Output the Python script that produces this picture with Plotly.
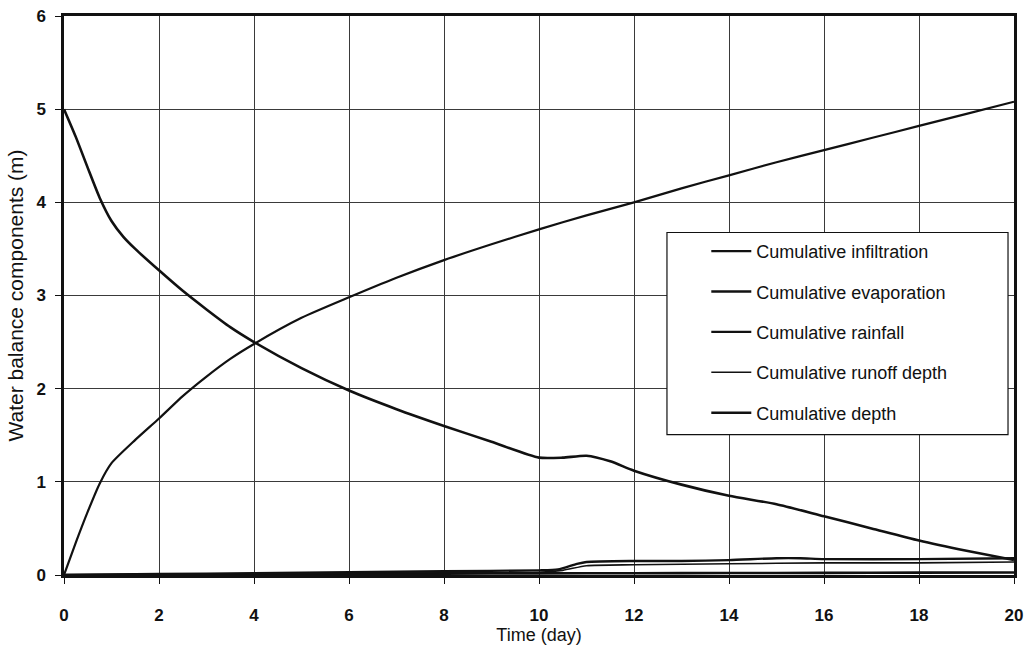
import plotly.graph_objects as go

# Cumulative infiltration (m) over time (day)
t_infil = [0, 0.25, 0.5, 0.75, 1, 1.5, 2, 2.5, 3, 3.5, 4, 5, 6, 7, 8, 9, 10,
           11, 12, 13, 14, 15, 16, 17, 18, 19, 20]
infiltration = [0, 0.35, 0.68, 0.98, 1.2, 1.45, 1.68, 1.92, 2.13, 2.32, 2.48,
                 2.76, 2.98, 3.19, 3.38, 3.55, 3.71, 3.86, 4.0, 4.15, 4.29,
                 4.43, 4.56, 4.69, 4.82, 4.95, 5.08]

# Cumulative evaporation (m)
t_evap = [0, 2, 4, 6, 8, 10, 12, 14, 16, 18, 20]
evaporation = [0, 0.004, 0.008, 0.011, 0.014, 0.017, 0.019, 0.021, 0.023,
               0.025, 0.027]

# Cumulative rainfall (m)
t_rain = [0, 2, 4, 6, 8, 10, 10.4, 10.8, 11, 12, 13, 14, 15, 15.5, 16, 18, 20]
rainfall = [0, 0.01, 0.02, 0.03, 0.04, 0.05, 0.06, 0.12, 0.14, 0.15, 0.15,
            0.16, 0.18, 0.18, 0.17, 0.17, 0.18]

# Cumulative runoff depth (m)
t_runoff = [0, 2, 4, 6, 8, 10, 10.5, 11, 12, 14, 16, 18, 20]
runoff = [0, 0.006, 0.012, 0.018, 0.024, 0.03, 0.05, 0.1, 0.11, 0.12, 0.13,
          0.13, 0.14]

# Cumulative depth (m)
t_depth = [0, 0.25, 0.5, 0.75, 1, 1.25, 1.5, 2, 2.5, 3, 3.5, 4, 5, 6, 7, 8, 9,
           10, 10.5, 11, 11.5, 12, 13, 14, 15, 16, 17, 18, 19, 20]
depth = [5.0, 4.7, 4.37, 4.05, 3.8, 3.63, 3.5, 3.27, 3.05, 2.85, 2.66, 2.5,
         2.22, 1.98, 1.78, 1.6, 1.43, 1.26, 1.26, 1.28, 1.22, 1.12, 0.97,
         0.85, 0.76, 0.63, 0.5, 0.37, 0.26, 0.16]

series_names = ["Cumulative infiltration", "Cumulative evaporation",
                "Cumulative rainfall", "Cumulative runoff depth",
                "Cumulative depth"]
x_ticks = [0, 2, 4, 6, 8, 10, 12, 14, 16, 18, 20]
y_ticks = [0, 1, 2, 3, 4, 5, 6]

FONT = "Liberation Sans, Arial, sans-serif"
INK = "#111111"

series = [
    (t_infil, infiltration, 2.2),
    (t_evap, evaporation, 2.6),
    (t_rain, rainfall, 2.4),
    (t_runoff, runoff, 1.6),
    (t_depth, depth, 2.6),
]

fig = go.Figure()
for i, (name, (tx, ty, w)) in enumerate(zip(series_names, series)):
    fig.add_trace(go.Scatter(
        x=tx, y=ty, name=name, mode="lines", legendgroup=f"g{i}",
        line=dict(color=INK, width=w, shape="spline", smoothing=0.6),
    ))

axis_common = dict(
    showline=True, linecolor=INK, linewidth=2.5, mirror=True,
    showgrid=True, gridcolor="#3a3a3a", gridwidth=1,
    zeroline=False, ticks="outside", ticklen=6, tickcolor=INK,
    tickfont=dict(family=FONT, size=17, color=INK, weight="bold"),
)

# Legend frame, drawn as a box so it can be wider than the entry text
legend_box = dict(type="rect", xref="paper", yref="paper",
                  x0=0.6347, x1=0.9937, y0=0.2512, y1=0.6127,
                  line=dict(color=INK, width=1.2), fillcolor="white",
                  layer="above")

fig.update_layout(
    width=1032, height=647,
    margin=dict(l=64, r=18, t=16, b=72, autoexpand=False),
    paper_bgcolor="white", plot_bgcolor="white",
    font=dict(family=FONT, color=INK),
    showlegend=True,
    shapes=[legend_box],
    legend=dict(
        x=0.634, y=0.612, xanchor="left", yanchor="top",
        bgcolor="rgba(0,0,0,0)", borderwidth=0,
        font=dict(family=FONT, size=18, color=INK),
        tracegroupgap=14, indentation=40, itemwidth=40,
    ),
    xaxis=dict(
        range=[0, 20], tickvals=x_ticks, ticklabelstandoff=17,
        title=dict(text="Time (day)", font=dict(family=FONT, size=18, color=INK),
                   standoff=2),
        **axis_common,
    ),
    yaxis=dict(
        range=[0, 6], tickvals=y_ticks, ticklabelstandoff=6,
        title=dict(text="Water balance components (m)",
                   font=dict(family=FONT, size=21, color=INK), standoff=8),
        **axis_common,
    ),
)

fig.write_html("out.html")
